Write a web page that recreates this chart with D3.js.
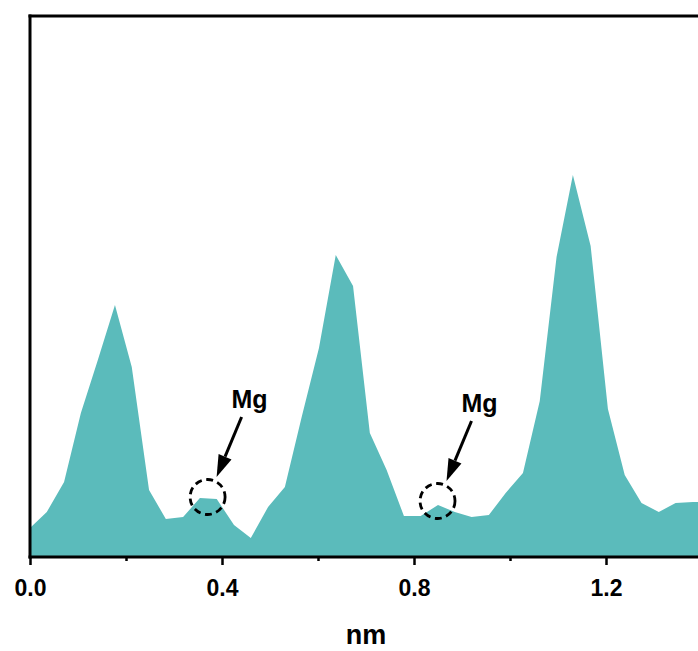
<!DOCTYPE html>
<html>
<head>
<meta charset="utf-8">
<script src="https://cdn.jsdelivr.net/npm/d3@7"></script>
<style>
  html, body { margin: 0; padding: 0; background: #fff; }
  svg { display: block; font-family: "Liberation Sans", Arial, Helvetica, sans-serif; }
</style>
</head>
<body>
<svg id="chart" width="698" height="651"></svg>
<script>
// ---- data ----
const distanceNm = [0, 0.035, 0.071, 0.106, 0.142, 0.177, 0.212, 0.248, 0.283, 0.319,
  0.354, 0.389, 0.425, 0.460, 0.496, 0.531, 0.566, 0.602, 0.637, 0.673,
  0.708, 0.743, 0.779, 0.814, 0.850, 0.885, 0.920, 0.956, 0.991, 1.027,
  1.062, 1.097, 1.131, 1.168, 1.204, 1.239, 1.274, 1.310, 1.345, 1.381, 1.416];
const intensity = [29, 45, 75, 144, 198, 252, 190, 67, 38, 40,
  59, 58, 32, 19, 50, 70, 140, 209, 302, 271,
  124, 87, 41, 41, 52, 45, 40, 42, 64, 84,
  156, 300, 382, 311, 148, 82, 54, 45, 54, 55, 55];
const majorTicks = [0.0, 0.4, 0.8, 1.2];
const majorTickLabels = ["0.0", "0.4", "0.8", "1.2"];
const minorTicks = [0.2, 0.6, 1.0];
const xLabel = "nm";
const annotations = [
  { label: "Mg", x: 0.370, v: 60 },
  { label: "Mg", x: 0.849, v: 56 }
];

// ---- layout ----
const svg = d3.select("#chart");
const plotLeft = 30, plotTop = 16, plotBottom = 557;
const x = d3.scaleLinear().domain([0, 1.4]).range([plotLeft, plotLeft + 1.4 * 480]);
const y = d3.scaleLinear().domain([0, 541]).range([plotBottom, plotTop]);
const fillColor = "#5bbbbb";

svg.append("defs").append("clipPath").attr("id", "plotclip")
  .append("rect").attr("x", plotLeft).attr("y", plotTop).attr("width", 700).attr("height", plotBottom - plotTop);

const pts = distanceNm.map((d, i) => ({ d, v: intensity[i] }));
const area = d3.area().x(p => x(p.d)).y0(y(0)).y1(p => y(p.v)).curve(d3.curveLinear);
svg.append("path").datum(pts).attr("clip-path", "url(#plotclip)")
  .attr("d", area).attr("fill", fillColor).attr("stroke", "none");

// ---- axes ----
const axisMajor = d3.axisBottom(x).tickValues(majorTicks).tickSize(8)
  .tickFormat((d, i) => majorTickLabels[i]).tickPadding(15);
const gMaj = svg.append("g").attr("transform", `translate(0,${plotBottom})`).call(axisMajor);
gMaj.select(".domain").remove();
gMaj.selectAll(".tick line").attr("stroke", "#000").attr("stroke-width", 2.5);
gMaj.selectAll(".tick text").attr("font-size", 23).attr("font-weight", "bold")
  .attr("fill", "#000").attr("font-family", "Liberation Sans, Arial, sans-serif");

const axisMinor = d3.axisBottom(x).tickValues(minorTicks).tickSize(4).tickFormat("");
const gMin = svg.append("g").attr("transform", `translate(0,${plotBottom})`).call(axisMinor);
gMin.select(".domain").remove();
gMin.selectAll(".tick line").attr("stroke", "#000").attr("stroke-width", 2.5);

// frame: bottom axis line, left line, top line
svg.append("line").attr("x1", plotLeft - 1.5).attr("x2", 700).attr("y1", plotBottom).attr("y2", plotBottom)
  .attr("stroke", "#000").attr("stroke-width", 3);
svg.append("line").attr("x1", plotLeft).attr("x2", plotLeft).attr("y1", plotTop - 1.5).attr("y2", plotBottom + 1.5)
  .attr("stroke", "#000").attr("stroke-width", 3);
svg.append("line").attr("x1", plotLeft - 1.5).attr("x2", 700).attr("y1", plotTop).attr("y2", plotTop)
  .attr("stroke", "#000").attr("stroke-width", 3);

svg.append("text").attr("x", 366).attr("y", 644).attr("text-anchor", "middle")
  .attr("font-size", 27).attr("font-weight", "bold").attr("fill", "#000").text(xLabel);

// ---- annotations ----
annotations.forEach(a => {
  const cx = x(a.x), cy = y(a.v);
  svg.append("ellipse").attr("cx", cx).attr("cy", cy).attr("rx", 17.5).attr("ry", 17.5)
    .attr("fill", "none").attr("stroke", "#000").attr("stroke-width", 2.8)
    .attr("stroke-dasharray", "7,4.5");
  // arrow from label to circle
  const x0 = cx + 34, y0 = cy - 80;
  const x1 = cx + 9, y1 = cy - 20;
  const ang = Math.atan2(y1 - y0, x1 - x0);
  const headLen = 22, headW = 7;
  const bx = x1 - headLen * Math.cos(ang), by = y1 - headLen * Math.sin(ang);
  svg.append("line").attr("x1", x0).attr("y1", y0).attr("x2", bx).attr("y2", by)
    .attr("stroke", "#000").attr("stroke-width", 3);
  const px = -Math.sin(ang) * headW, py = Math.cos(ang) * headW;
  svg.append("polygon")
    .attr("points", `${x1},${y1} ${bx + px},${by + py} ${bx - px},${by - py}`)
    .attr("fill", "#000");
  svg.append("text").attr("x", cx + 42).attr("y", cy - 89).attr("text-anchor", "middle")
    .attr("font-size", 25).attr("font-weight", "bold").attr("fill", "#000").text(a.label);
});
</script>
</body>
</html>
